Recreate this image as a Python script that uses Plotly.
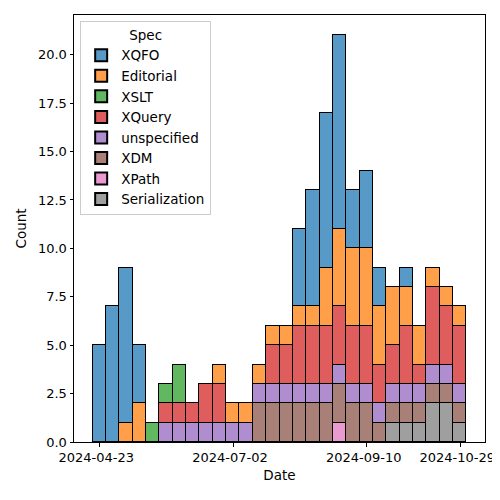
import plotly.graph_objects as go
import pandas as pd

# Weekly bins (28 bins)
bin_start = "2024-04-19T13:00:00"
bin_days = 6.986
n_bins = 28

specs = ["XQFO", "Editorial", "XSLT", "XQuery", "unspecified", "XDM", "XPath", "Serialization"]
colors = ["#1f77b4", "#ff7f0e", "#2ca02c", "#d62728", "#9467bd", "#8c564b", "#e377c2", "#7f7f7f"]

XQFO = [5, 7, 8, 3, 0, 0, 0, 0, 0, 0, 0, 0, 0, 0, 0, 4, 6, 8, 10, 3, 4, 2, 0, 1, 0, 0, 0, 0]
Editorial = [0, 0, 1, 2, 0, 0, 0, 0, 0, 1, 1, 1, 1, 1, 1, 1, 1, 3, 4, 4, 4, 3, 3, 2, 2, 1, 1, 1]
XSLT = [0, 0, 0, 0, 1, 1, 2, 0, 0, 0, 0, 0, 0, 0, 0, 0, 0, 0, 0, 0, 0, 0, 0, 0, 0, 0, 0, 0]
XQuery = [0, 0, 0, 0, 0, 1, 1, 1, 2, 2, 0, 0, 0, 2, 2, 3, 3, 3, 3, 3, 3, 2, 2, 3, 1, 4, 3, 3]
unspecified = [0, 0, 0, 0, 0, 1, 1, 1, 1, 1, 1, 1, 1, 1, 1, 1, 1, 1, 1, 1, 1, 1, 1, 1, 1, 1, 1, 1]
XDM = [0, 0, 0, 0, 0, 0, 0, 0, 0, 0, 0, 0, 2, 2, 2, 2, 2, 2, 2, 2, 2, 1, 1, 1, 1, 1, 1, 1]
XPath = [0, 0, 0, 0, 0, 0, 0, 0, 0, 0, 0, 0, 0, 0, 0, 0, 0, 0, 1, 0, 0, 0, 0, 0, 0, 0, 0, 0]
Serialization = [0, 0, 0, 0, 0, 0, 0, 0, 0, 0, 0, 0, 0, 0, 0, 0, 0, 0, 0, 0, 0, 0, 1, 1, 1, 2, 2, 1]

series = [XQFO, Editorial, XSLT, XQuery, unspecified, XDM, XPath, Serialization]

tick_dates = ["2024-04-23", "2024-07-02", "2024-09-10", "2024-10-29"]
y_ticks = [0, 2.5, 5, 7.5, 10, 12.5, 15, 17.5, 20]

start = pd.Timestamp(bin_start)
width = pd.Timedelta(days=bin_days)
centers = [start + width * (i + 0.5) for i in range(n_bins)]
width_ms = width.total_seconds() * 1000
end = start + width * n_bins
span = end - start
x_range = [start - span * 0.05, end + span * 0.05]


def rgba(hexc, a=0.75):
    h = hexc.lstrip("#")
    r, g, b = int(h[0:2], 16), int(h[2:4], 16), int(h[4:6], 16)
    return f"rgba({r},{g},{b},{a})"


fig = go.Figure()
# bottom of stack first: last hue at bottom
for name, col, vals in reversed(list(zip(specs, colors, series))):
    fig.add_trace(go.Bar(
        x=centers,
        y=[v if v else None for v in vals],
        width=width_ms,
        name=name,
        marker=dict(color=rgba(col), line=dict(color="black", width=1)),
    ))

font = dict(family="DejaVu Sans", size=13.5, color="black")
tickfont = dict(family="DejaVu Sans", size=13, color="black")
fig.update_layout(
    width=492, height=492,
    barmode="stack", bargap=0,
    plot_bgcolor="white", paper_bgcolor="white",
    margin=dict(l=66, r=15, t=7, b=58),
    font=font,
    showlegend=True,
    legend=dict(
        title=dict(text="Spec", side="top center", font=font),
        traceorder="reversed",
        x=0.015, y=0.985, xanchor="left", yanchor="top",
        bgcolor="rgba(255,255,255,0.8)", bordercolor="#cccccc", borderwidth=1,
        font=font, itemsizing="constant", tracegroupgap=0,
    ),
    xaxis=dict(
        range=x_range, type="date", automargin=False,
        tickvals=tick_dates, ticktext=tick_dates,
        ticks="outside", ticklen=3.5, tickcolor="black",
        showline=True, linecolor="black", linewidth=1, mirror=True,
        showgrid=False, zeroline=False,
        title=dict(text="Date", font=font, standoff=6),
        tickfont=tickfont, ticklabelshift=-3, ticklabeloverflow="allow",
    ),
    yaxis=dict(
        range=[0, 22.05], automargin=False,
        tickvals=y_ticks, ticktext=[f"{v:.1f}" for v in y_ticks],
        ticks="outside", ticklen=3.5, tickcolor="black",
        showline=True, linecolor="black", linewidth=1, mirror=True,
        showgrid=False, zeroline=False,
        title=dict(text="Count", font=font, standoff=8),
        tickfont=tickfont,
    ),
)

fig.write_html("out.html")
